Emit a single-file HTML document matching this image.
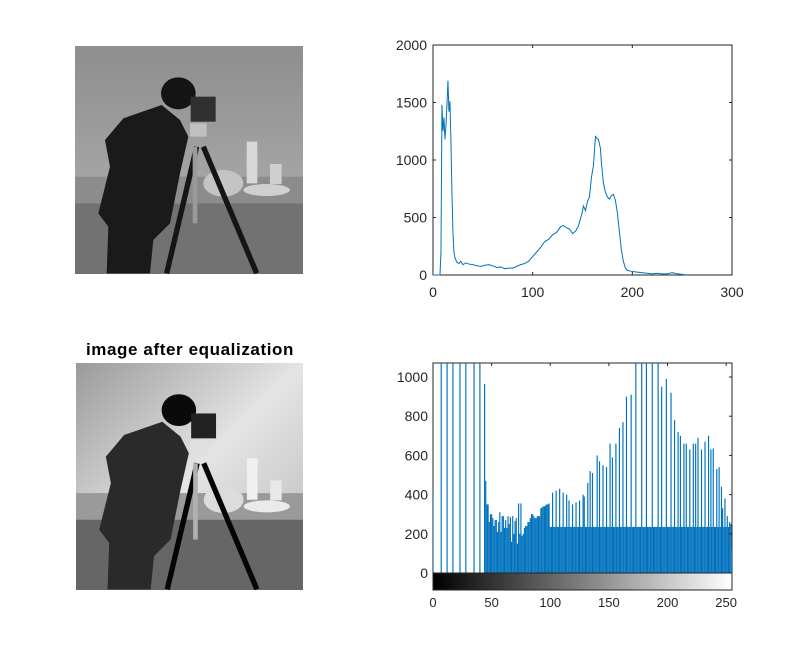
<!DOCTYPE html>
<html><head><meta charset="utf-8"><style>
html,body{margin:0;padding:0;background:#fff;}
body{width:789px;height:652px;position:relative;overflow:hidden;font-family:"Liberation Sans","DejaVu Sans",sans-serif;}
svg{position:absolute;left:0;top:0;}
</style></head><body>
<svg id="fig" width="789" height="652" viewBox="0 0 789 652">
<defs>
<linearGradient id="sky1" x1="0" y1="0" x2="0" y2="1"><stop offset="0" stop-color="#8e8e8e"/><stop offset="1" stop-color="#b4b4b4"/></linearGradient>
<linearGradient id="sky2" x1="0" y1="0" x2="1" y2="1"><stop offset="0" stop-color="#9a9a9a"/><stop offset="0.5" stop-color="#e4e4e4"/><stop offset="1" stop-color="#b8b8b8"/></linearGradient>
<linearGradient id="cbar" x1="0" y1="0" x2="1" y2="0"><stop offset="0" stop-color="#000"/><stop offset="1" stop-color="#fff"/></linearGradient>
</defs>
<g>
<svg x="75" y="46" width="228" height="228" viewBox="15 18 684 684" preserveAspectRatio="none">
<rect x="15" y="18" width="684" height="684" fill="url(#sky1)"/>
<rect x="15" y="410" width="684" height="80" fill="#8c8c8c"/>
<rect x="530" y="305" width="32" height="125" fill="#d8d8d8"/>
<rect x="600" y="372" width="35" height="60" fill="#cfcfcf"/>
<ellipse cx="460" cy="430" rx="60" ry="40" fill="#c4c4c4"/>
<ellipse cx="590" cy="450" rx="70" ry="18" fill="#d0d0d0"/>
<rect x="15" y="490" width="684" height="212" fill="#727272"/>
<polygon points="105,300 160,235 275,195 330,240 355,290 330,400 300,550 250,600 240,700 110,700 115,560 85,520 120,380" fill="#1a1a1a"/>
<ellipse cx="325" cy="160" rx="52" ry="48" fill="#141414"/>
<rect x="362" y="170" width="75" height="75" fill="#303030"/>
<rect x="360" y="250" width="50" height="40" fill="#c0c0c0"/>
<line x1="380" y1="320" x2="290" y2="700" stroke="#151515" stroke-width="16"/>
<line x1="400" y1="320" x2="560" y2="700" stroke="#151515" stroke-width="16"/>
<line x1="375" y1="320" x2="375" y2="550" stroke="#9a9a9a" stroke-width="14"/>
</svg>
</g>
<text x="190" y="355" text-anchor="middle" font-size="17" font-weight="bold" letter-spacing="0.6" fill="#000">image after equalization</text>
<g>
<svg x="76" y="363" width="227" height="227" viewBox="15 18 684 684" preserveAspectRatio="none">
<rect x="15" y="18" width="684" height="684" fill="url(#sky2)"/>
<rect x="15" y="410" width="684" height="80" fill="#9a9a9a"/>
<rect x="530" y="305" width="32" height="125" fill="#f0f0f0"/>
<rect x="600" y="372" width="35" height="60" fill="#e8e8e8"/>
<ellipse cx="460" cy="430" rx="60" ry="40" fill="#dcdcdc"/>
<ellipse cx="590" cy="450" rx="70" ry="18" fill="#eaeaea"/>
<rect x="15" y="490" width="684" height="212" fill="#666"/>
<polygon points="105,300 160,235 275,195 330,240 355,290 330,400 300,550 250,600 240,700 110,700 115,560 85,520 120,380" fill="#2a2a2a"/>
<ellipse cx="325" cy="160" rx="52" ry="48" fill="#0a0a0a"/>
<rect x="362" y="170" width="75" height="75" fill="#222"/>
<rect x="360" y="250" width="50" height="40" fill="#e0e0e0"/>
<line x1="380" y1="320" x2="290" y2="700" stroke="#050505" stroke-width="16"/>
<line x1="400" y1="320" x2="560" y2="700" stroke="#050505" stroke-width="16"/>
<line x1="375" y1="320" x2="375" y2="550" stroke="#b0b0b0" stroke-width="14"/>
</svg>
</g>
<g id="top"></g>
<g id="bot"></g>
</svg>
<script>
const NS='http://www.w3.org/2000/svg';
// top histogram data
const topBins=[0,7,8,9,10,11,12,13,14,15,16,17,18,19,20,21,22,24,26,28,30,33,36,40,44,48,52,56,60,64,68,72,76,80,84,88,92,96,100,104,108,112,116,120,124,128,131,134,137,140,143,146,149,151,153,155,157,159,161,163,164,166,168,169,171,173,175,177,179,181,183,185,187,189,191,193,195,200,205,210,215,220,225,230,235,240,245,250,255];
const topCounts=[0,0,200,1480,1250,1370,1180,1300,1480,1690,1420,1510,1160,720,380,200,150,110,100,120,90,105,95,90,80,75,85,90,80,65,70,55,60,60,75,90,100,120,160,200,240,290,310,350,370,420,430,410,400,360,380,430,520,600,560,640,680,850,950,1210,1190,1180,1100,970,800,720,680,660,690,700,650,540,380,220,120,60,40,30,25,20,15,10,15,10,10,20,10,5,0];
const topXTicks=[0,100,200,300];
const topYTicks=[0,500,1000,1500,2000];
// equalized histogram data: one count per gray level 0..255
const eqCounts=[
420,0,0,0,0,0,0,3000,0,0,
0,0,3000,0,0,0,0,3000,0,0,
0,0,0,3000,0,0,0,0,3000,0,
0,0,0,0,0,3000,0,0,0,0,
3000,0,0,0,965,470,350,350,260,300,
300,280,240,270,270,210,260,310,210,290,
290,230,270,230,290,250,285,160,290,200,
265,280,150,355,200,355,190,200,230,240,
240,260,260,280,300,300,290,280,280,290,
290,290,330,335,340,340,345,350,350,355,
235,235,410,235,235,420,235,235,430,235,
235,410,235,235,400,235,370,235,235,350,
235,235,360,235,235,370,235,235,400,390,
235,235,460,235,520,235,510,235,235,235,
600,235,570,235,235,550,235,235,540,235,
235,660,235,590,235,235,660,235,235,740,
235,235,770,235,235,900,235,235,235,910,
235,235,235,3000,235,235,235,235,3000,235,
235,235,3000,235,235,235,235,3000,235,235,
235,235,3000,235,235,950,235,235,235,990,
235,235,235,920,235,235,780,235,235,720,
235,700,235,235,660,235,660,235,235,630,
235,235,660,235,660,235,690,235,235,630,
235,235,670,235,235,700,235,630,235,635,
235,235,530,235,540,235,440,330,235,380,
235,290,235,260,250,130];
const eqXTicks=[0,50,100,150,200,250];
const eqYTicks=[0,200,400,600,800,1000];

function el(tag,attrs,parent){const e=document.createElementNS(NS,tag);for(const k in attrs)e.setAttribute(k,attrs[k]);parent.appendChild(e);return e;}

(function(){
  const g=document.getElementById('top');
  const L=433,R=732,T=45,B=275;
  const xs=v=>L+(v-0)/300*(R-L), ys=v=>B-(v/2000)*(B-T);
  const frame=el('rect',{x:L,y:T,width:R-L,height:B-T,fill:'#fff',stroke:'#262626','stroke-width':1},g);
  
  
  topXTicks.forEach(v=>{const x=xs(v);
    el('line',{x1:x,y1:B,x2:x,y2:B-3,stroke:'#262626'},g);el('line',{x1:x,y1:T,x2:x,y2:T+3,stroke:'#262626'},g);
    const t=el('text',{x:x,y:B+22,'text-anchor':'middle','font-size':14,fill:'#262626'},g);t.textContent=v;
    
    });
  topYTicks.forEach(v=>{const y=ys(v);
    el('line',{x1:L,y1:y,x2:L+3,y2:y,stroke:'#262626'},g);el('line',{x1:R,y1:y,x2:R-3,y2:y,stroke:'#262626'},g);
    const t=el('text',{x:L-6,y:y+5,'text-anchor':'end','font-size':14,fill:'#262626'},g);t.textContent=v;
    
    });
  const d=topBins.map((b,i)=>(i?'L':'M')+xs(b).toFixed(2)+','+ys(topCounts[i]).toFixed(2)).join('');
  const p=el('path',{d:d,fill:'none',stroke:'#0072bd','stroke-width':1},g);
  
  
})();

(function(){
  const g=document.getElementById('bot');
  const L=433,R=732,T=363,B=590,Y0=573;
  const xs=v=>L+v/255*(R-L), ys=v=>Y0-v/1000*196;
  const frame=el('rect',{x:L,y:T,width:R-L,height:B-T,fill:'#fff',stroke:'#262626','stroke-width':1},g);
  
  
  const cl=el('clipPath',{id:'bclip'},g);el('rect',{x:L,y:T,width:R-L,height:Y0-T},cl);
  const bars=el('g',{'clip-path':'url(#bclip)'},g);
  const bw=(R-L)/255;
  eqCounts.forEach((c,b)=>{
    if(c<=0) return;
    const y=ys(c);
    const r=el('rect',{x:(xs(b)-bw*0.5).toFixed(2),y:y.toFixed(2),width:(bw*1.0).toFixed(2),height:(Y0-y).toFixed(2),fill:'#0072bd'},bars);
    
    
  });
  const cb=el('rect',{x:L,y:Y0,width:R-L,height:B-Y0,fill:'url(#cbar)',stroke:'#262626','stroke-width':1},g);
  
  
  eqXTicks.forEach(v=>{const x=xs(v);
    el('line',{x1:x,y1:T,x2:x,y2:T+3,stroke:'#262626'},g);
    const t=el('text',{x:x,y:B+17,'text-anchor':'middle','font-size':13,fill:'#262626'},g);t.textContent=v;
    
    });
  eqYTicks.forEach(v=>{const y=ys(v);
    el('line',{x1:R,y1:y,x2:R-3,y2:y,stroke:'#262626'},g);
    const t=el('text',{x:L-5,y:y+5,'text-anchor':'end','font-size':14,fill:'#262626'},g);t.textContent=v;
    
    });
})();
</script>
</body></html>
